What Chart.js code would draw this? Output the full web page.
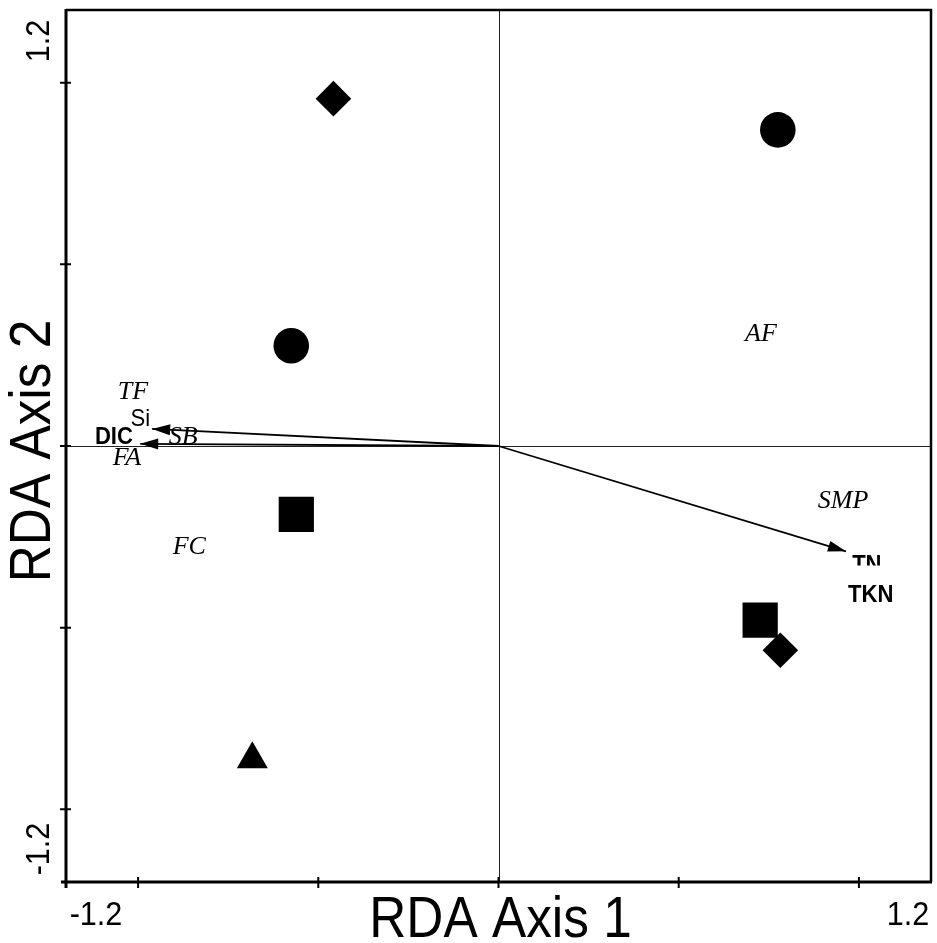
<!DOCTYPE html>
<html>
<head>
<meta charset="utf-8">
<script src="https://cdn.jsdelivr.net/npm/chart.js@4/dist/chart.umd.min.js"></script>
<style>
  html, body { margin: 0; padding: 0; background: #fff; }
  #wrap { width: 937px; height: 943px; }
</style>
</head>
<body>
<div id="wrap"><canvas id="rda" width="937" height="943"></canvas></div>
<script>
// Site scores on RDA axes 1 and 2, one list per symbol
const circleSites = [{x: 0.775, y: 0.870}, {x: -0.575, y: 0.276}];
const diamondSites = [{x: -0.458, y: 0.956}, {x: 0.782, y: -0.562}];
const squareSites = [{x: -0.561, y: -0.188}, {x: 0.726, y: -0.479}];
const triangleSites = [{x: -0.683, y: -0.862}];

// Environmental arrows (tips)
const arrowNames = ['TN', 'Si', 'DIC'];
const arrowX = [0.964, -0.961, -0.994];
const arrowY = [-0.290, 0.047, 0.006];

// Text labels: variable / species names at their scores
const labelNames = ['TF', 'Si', 'DIC', 'SB', 'FA', 'FC', 'AF', 'SMP', 'TN', 'TKN'];
const labelX = [-1.014, -0.994, -1.067, -0.875, -1.031, -0.858, 0.728, 0.956, 1.022, 1.033];
const labelY = [0.149, 0.072, 0.025, 0.025, -0.033, -0.279, 0.307, -0.152, -0.329, -0.412];

// Axis range and tick marks
const axisMin = -1.2;
const axisMax = 1.2;
const tickValues = [-1.0, -0.5, 0, 0.5, 1.0];
const xTitle = 'RDA Axis 1';
const yTitle = 'RDA Axis 2';

// fonts for the labels (species italic serif, chemistry sans)
const italicNames = ['TF', 'SB', 'FA', 'FC', 'AF', 'SMP'];
const boldNames = ['DIC', 'TN', 'TKN'];

function putText(ctx, str, px, py, font, sx, rot) {
    ctx.save();
    ctx.translate(px, py);
    if (rot) ctx.rotate(rot);
    ctx.scale(sx, 1);
    ctx.font = font;
    ctx.fillStyle = '#000';
    ctx.textAlign = 'center';
    ctx.textBaseline = 'middle';
    ctx.fillText(str, 0, 0);
    ctx.restore();
}

const rdaFrame = {
    id: 'rdaFrame',
    beforeDatasetsDraw(chart) {
        const {ctx, chartArea: a, scales: {x, y}} = chart;
        const x0 = Math.round(x.getPixelForValue(0)) + 0.5;
        const y0 = Math.round(y.getPixelForValue(0)) + 0.5;
        ctx.save();
        ctx.strokeStyle = '#222';
        ctx.lineWidth = 1;
        ctx.beginPath();
        ctx.moveTo(x0, a.top); ctx.lineTo(x0, a.bottom);
        ctx.moveTo(a.left, y0); ctx.lineTo(a.right, y0);
        ctx.stroke();
        ctx.restore();
    },
    afterDatasetsDraw(chart) {
        const {ctx, chartArea: a, scales: {x, y}} = chart;
        ctx.save();

        // arrow heads
        chart.data.datasets.forEach((ds, i) => {
            if (!ds.isArrow) return;
            const pts = chart.getDatasetMeta(i).data;
            const p0 = pts[0], p1 = pts[pts.length - 1];
            const ang = Math.atan2(p1.y - p0.y, p1.x - p0.x);
            const len = 18, half = 5.5;
            ctx.fillStyle = '#000';
            ctx.beginPath();
            ctx.moveTo(p1.x, p1.y);
            ctx.lineTo(p1.x - len * Math.cos(ang) + half * Math.sin(ang), p1.y - len * Math.sin(ang) - half * Math.cos(ang));
            ctx.lineTo(p1.x - len * Math.cos(ang) - half * Math.sin(ang), p1.y - len * Math.sin(ang) + half * Math.cos(ang));
            ctx.closePath();
            ctx.fill();
        });

        // labels
        labelNames.forEach((name, i) => {
            const px = x.getPixelForValue(labelX[i]);
            const py = y.getPixelForValue(labelY[i]);
            let font = '24px "Liberation Sans", Arial, sans-serif', sx = 0.92;
            if (italicNames.includes(name)) { font = 'italic 26px "Liberation Serif", "Times New Roman", serif'; sx = 1; }
            if (boldNames.includes(name)) { font = 'bold 24px "Liberation Sans", Arial, sans-serif'; sx = 0.92; }
            if (name === 'TN') {
                // only the upper part of TN shows in the original
                ctx.save();
                ctx.beginPath();
                ctx.rect(px - 40, py - 30, 80, 30);
                ctx.clip();
                putText(ctx, name, px, py, font, sx);
                ctx.restore();
            } else {
                putText(ctx, name, px, py, font, sx);
            }
        });

        // frame
        ctx.strokeStyle = '#000';
        ctx.lineWidth = 2.5;
        ctx.beginPath();
        ctx.moveTo(a.left, a.top); ctx.lineTo(a.right, a.top); ctx.lineTo(a.right, a.bottom);
        ctx.stroke();
        ctx.lineWidth = 3;
        ctx.beginPath();
        ctx.moveTo(a.left, a.top - 1); ctx.lineTo(a.left, a.bottom + 6);
        ctx.moveTo(a.left - 5, a.bottom); ctx.lineTo(a.right + 1, a.bottom);
        ctx.stroke();

        // ticks crossing the axes
        ctx.lineWidth = 2;
        ctx.beginPath();
        tickValues.forEach(v => {
            const tx = x.getPixelForValue(v);
            ctx.moveTo(tx, a.bottom - 5); ctx.lineTo(tx, a.bottom + 6);
            const ty = y.getPixelForValue(v);
            ctx.moveTo(a.left - 6, ty); ctx.lineTo(a.left + 5, ty);
        });
        ctx.stroke();

        // axis end labels and titles
        const numFont = '34px "Liberation Sans", Arial, sans-serif';
        putText(ctx, String(axisMin.toFixed(1)), a.left + 30, a.bottom + 34, numFont, 0.9);
        putText(ctx, String(axisMax.toFixed(1)), a.right - 23, a.bottom + 34, numFont, 0.9);
        putText(ctx, String(axisMax.toFixed(1)), a.left - 26, a.top + 31, numFont, 0.9, -Math.PI / 2);
        putText(ctx, String(axisMin.toFixed(1)), a.left - 26, a.bottom - 33, numFont, 0.9, -Math.PI / 2);

        const titleFont = '58px "Liberation Sans", Arial, sans-serif';
        putText(ctx, xTitle, (a.left + a.right) / 2 + 2, a.bottom + 39, titleFont, 0.885);
        putText(ctx, yTitle, a.left - 32, (a.top + a.bottom) / 2 + 5, titleFont, 0.885, -Math.PI / 2);

        ctx.restore();
    }
};

const arrowSets = arrowNames.map((name, i) => ({
    label: name,
    isArrow: true,
    data: [{x: 0, y: 0}, {x: arrowX[i], y: arrowY[i]}],
    showLine: true,
    borderColor: '#000',
    borderWidth: 1.8,
    pointRadius: 0,
    pointHoverRadius: 0
}));

function siteSet(label, data, style, radius) {
    return {
        label: label,
        data: data,
        pointStyle: style,
        pointRadius: radius,
        pointHoverRadius: radius,
        backgroundColor: '#000',
        borderColor: '#000',
        borderWidth: 0
    };
}

new Chart(document.getElementById('rda').getContext('2d'), {
    type: 'scatter',
    data: {
        datasets: [
            ...arrowSets,
            siteSet('circle', circleSites, 'circle', 17.8),
            siteSet('diamond', diamondSites, 'rectRot', 17.8),
            siteSet('square', squareSites, 'rect', 24.9),
            siteSet('triangle', triangleSites, 'triangle', 17.9)
        ]
    },
    options: {
        responsive: false,
        animation: false,
        layout: { autoPadding: false, padding: { left: 66, top: 10, right: 6, bottom: 61 } },
        plugins: {
            legend: { display: false },
            tooltip: { enabled: false }
        },
        scales: {
            x: { type: 'linear', min: axisMin, max: axisMax, display: false },
            y: { type: 'linear', min: axisMin, max: axisMax, display: false }
        }
    },
    plugins: [rdaFrame]
});
</script>
</body>
</html>
